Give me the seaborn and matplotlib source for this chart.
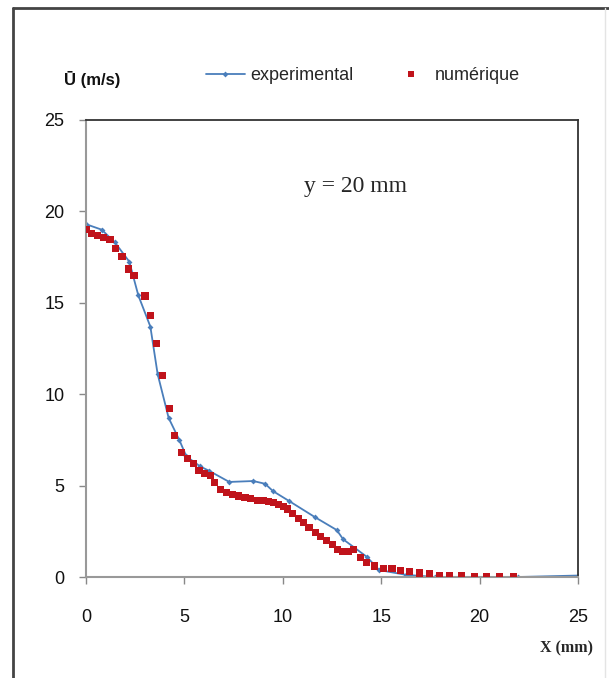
import matplotlib
matplotlib.use("Agg")
import matplotlib.pyplot as plt
import seaborn as sns
import pandas as pd
from matplotlib.lines import Line2D

# ---- data ----
exp_x = [0, 0.8, 1.47, 2.2, 2.66, 3.27, 3.64, 4.2, 4.74, 5.1, 5.8, 6.27, 7.28, 8.5,
         9.1, 9.5, 10.33, 11.64, 12.74, 13.07, 14.26, 14.9, 16.25, 17.73, 19.0, 21.97, 25]
exp_u = [19.3, 19.0, 18.3, 17.25, 15.4, 13.7, 11.1, 8.7, 7.5, 6.6, 6.05, 5.8, 5.2, 5.25,
         5.1, 4.7, 4.15, 3.27, 2.57, 2.06, 1.11, 0.38, 0.12, 0.0, 0.0, 0.0, 0.08]

num_x = [0, 0.29, 0.59, 0.91, 1.22, 1.5, 1.83, 2.15, 2.44, 3.0, 3.29, 3.59, 3.88, 4.22,
         4.49, 4.83, 5.14, 5.44, 5.74, 6.03, 6.32, 6.55, 6.84, 7.15, 7.44, 7.74, 8.08,
         8.38, 8.7, 9.0, 9.26, 9.52, 9.77, 10.03, 10.25, 10.5, 10.79, 11.06, 11.33,
         11.64, 11.92, 12.23, 12.52, 12.79, 13.04, 13.33, 13.58, 13.97, 14.26, 14.68,
         15.14, 15.55, 16.0, 16.43, 16.93, 17.44, 17.97, 18.48, 19.09, 19.72, 20.36,
         21.0, 21.74]
num_u = [19.02, 18.8, 18.69, 18.56, 18.47, 17.98, 17.52, 16.85, 16.48, 15.37, 14.33,
         12.75, 11.03, 9.21, 7.72, 6.8, 6.48, 6.23, 5.82, 5.67, 5.55, 5.16, 4.8, 4.63,
         4.52, 4.43, 4.36, 4.27, 4.21, 4.17, 4.12, 4.07, 3.99, 3.88, 3.72, 3.48, 3.21,
         2.98, 2.7, 2.42, 2.22, 2.0, 1.8, 1.52, 1.42, 1.42, 1.48, 1.06, 0.78, 0.6, 0.47,
         0.44, 0.38, 0.3, 0.22, 0.18, 0.08, 0.06, 0.06, 0.0, 0.0, 0.0, 0.0]

x_ticks = [0, 5, 10, 15, 20, 25]
y_ticks = [0, 5, 10, 15, 20, 25]

BLUE = "#4A7EBB"
RED = "#C0131B"

sns.set_style("white")
plt.rcParams['font.family'] = ['Liberation Sans', 'DejaVu Sans']

fig = plt.figure(figsize=(6.09, 6.78), dpi=100)
ax = fig.add_axes([86/609, 1 - 577/678, (578-86)/609, (577-120)/678])

df_exp = pd.DataFrame({"x": exp_x, "u": exp_u})
df_num = pd.DataFrame({"x": num_x, "u": num_u})

sns.lineplot(data=df_exp, x="x", y="u", ax=ax, color=BLUE, lw=1.3,
             marker="D", markersize=3, markeredgewidth=0, sort=False, zorder=2)
sns.scatterplot(data=df_num, x="x", y="u", ax=ax, color=RED, marker="s", s=26,
                edgecolor="none", zorder=3)

ax.set_xlim(0, 25)
ax.set_ylim(0, 25)
ax.set_xticks(x_ticks)
ax.set_yticks(y_ticks)
ax.set_xlabel("")
ax.set_ylabel("")
ax.tick_params(axis="both", which="major", direction="out", length=5, width=1,
               color="#888888", labelsize=13, labelcolor="#111111",
               left=True, bottom=True)
ax.tick_params(axis="y", pad=10.5)
ax.tick_params(axis="x", pad=18)
for side in ["left", "bottom"]:
    ax.spines[side].set_color("#999999")
    ax.spines[side].set_linewidth(1.5)
for side in ["top", "right"]:
    ax.spines[side].set_color("#333333")
    ax.spines[side].set_linewidth(1.3)
    ax.spines[side].set_visible(True)

# annotation
fig.text(355/609, 1 - 187/678, "y = 20 mm", fontsize=17,
         family=["Liberation Serif", "DejaVu Serif"], ha="center", va="center")

# axis labels as figure text
fig.text(64/609, 1 - 79/678, "Ū (m/s)", fontsize=12, fontweight="bold",
         ha="left", va="center", color="#111111")
fig.text(593/609, 1 - 648/678, "X (mm)", fontsize=11.5, fontweight="bold",
         family=["Liberation Serif", "DejaVu Serif"], ha="right", va="center")

# legend
handles = [Line2D([0], [0], color=BLUE, lw=1.3, marker="D", markersize=3,
                  markeredgewidth=0),
           Line2D([0], [0], color=RED, lw=0, marker="s", markersize=4.5,
                  markeredgewidth=0)]
fig.legend(handles, ["experimental", "numérique"], loc="center",
           bbox_to_anchor=(363/609, 1 - 76/678), ncol=2, frameon=False,
           fontsize=13, handlelength=2.2, handletextpad=0.25, columnspacing=2.1)

# outer frame lines
fig.add_artist(Line2D([13/609, 13/609], [0, 1 - 8/678], transform=fig.transFigure,
                      color="#444444", lw=2))
fig.add_artist(Line2D([13/609, 1], [1 - 8/678, 1 - 8/678], transform=fig.transFigure,
                      color="#444444", lw=2))
fig.add_artist(Line2D([605/609, 605/609], [0, 1 - 8/678], transform=fig.transFigure,
                      color="#E4E4E4", lw=1))

fig.savefig("out.png", dpi=100, facecolor="white")
